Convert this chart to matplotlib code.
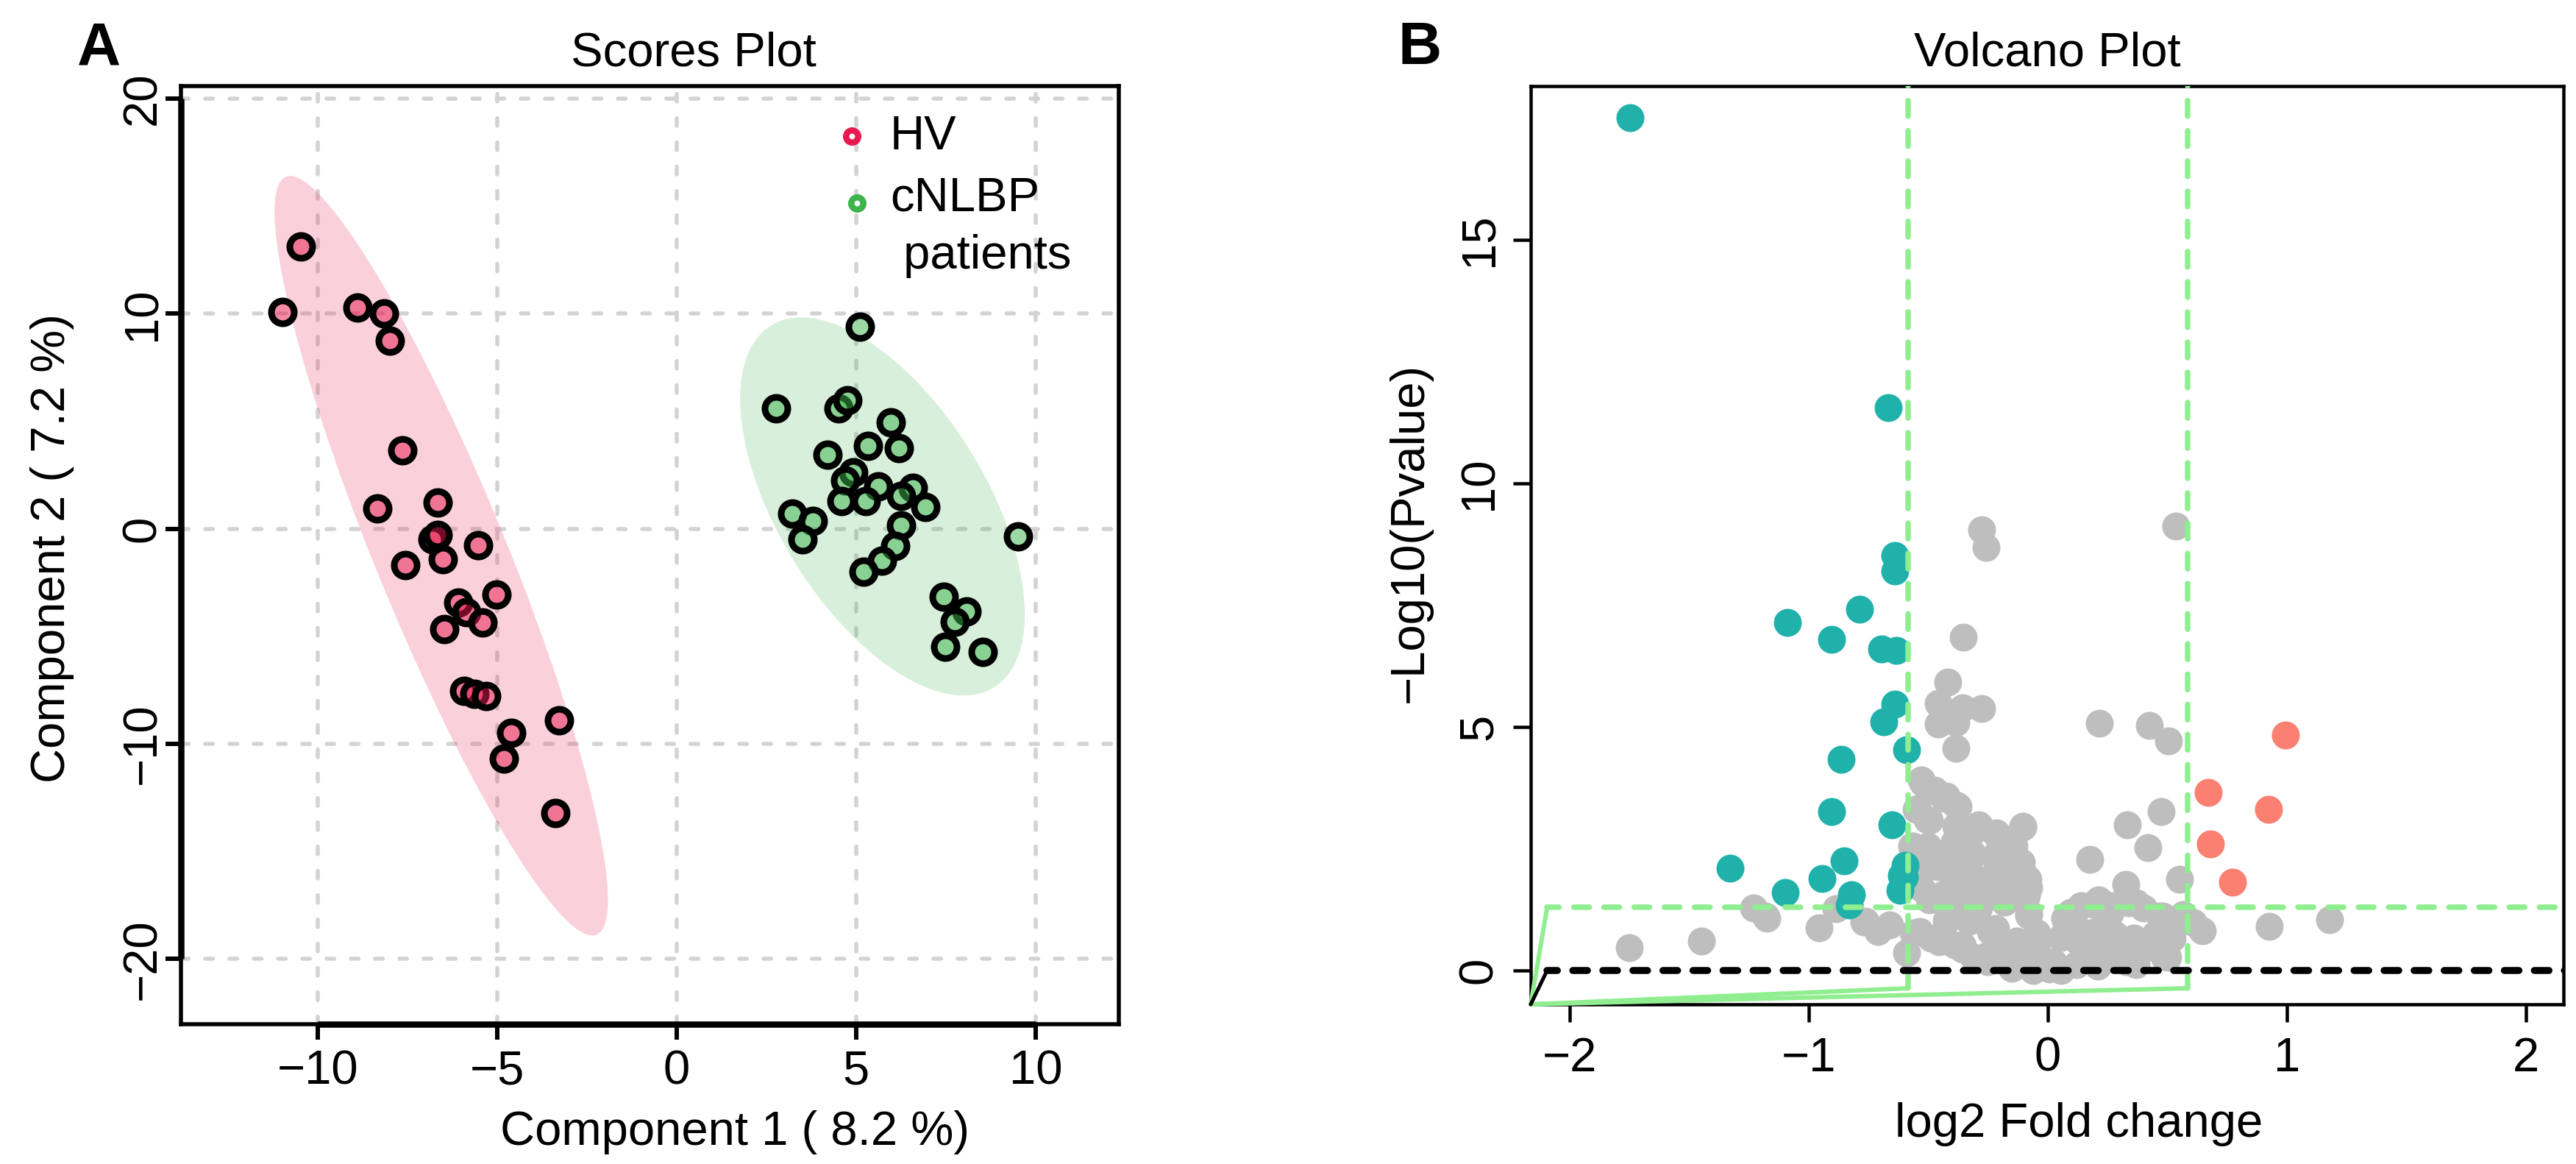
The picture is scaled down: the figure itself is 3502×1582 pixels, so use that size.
import numpy as np
import matplotlib
matplotlib.use('Agg')
import matplotlib.pyplot as plt
from matplotlib.patches import Ellipse

plt.rcParams['font.family'] = ['Liberation Sans', 'DejaVu Sans']

# ---------------- Panel A data (PLS-DA scores) ----------------
hv_x = [-10.46, -10.99, -8.90, -8.15, -7.99, -7.65, -8.33, -6.66, -6.80, -6.65,
        -5.53, -7.55, -6.52, -5.02, -6.09, -5.86, -5.40, -6.48, -5.93, -5.63,
        -5.31, -3.28, -4.60, -4.81, -3.37]
hv_y = [13.11, 10.09, 10.27, 10.01, 8.75, 3.64, 0.93, 1.23, -0.50, -0.30,
        -0.76, -1.69, -1.42, -3.07, -3.44, -3.88, -4.36, -4.65, -7.54, -7.67,
        -7.77, -8.89, -9.50, -10.67, -13.21]
cn_x = [5.11, 2.76, 4.52, 4.75, 5.96, 5.34, 6.19, 4.20, 4.92, 4.69,
        5.61, 6.59, 4.59, 5.28, 6.26, 6.94, 3.22, 3.79, 6.26, 9.51,
        3.51, 6.08, 5.73, 5.21, 7.45, 8.07, 7.75, 7.49, 8.52]
cn_y = [9.39, 5.61, 5.59, 5.99, 4.95, 3.85, 3.76, 3.46, 2.63, 2.24,
        1.98, 1.89, 1.28, 1.28, 1.54, 1.02, 0.70, 0.36, 0.15, -0.34,
        -0.48, -0.81, -1.48, -2.00, -3.15, -3.83, -4.33, -5.48, -5.71]
group_labels = ['HV', 'cNLBP', ' patients']
a_xticks = [-10, -5, 0, 5, 10]
a_yticks = [-20, -10, 0, 10, 20]

# ---------------- Panel B data (volcano) ----------------
down_x = [-1.749, -0.669, -0.640, -0.640, -1.089, -0.787, -0.906, -0.695, -0.634, -0.640,
          -0.685, -0.590, -0.866, -0.906, -0.653, -0.853, -0.945, -1.097, -0.821, -0.832,
          -0.598, -0.600, -0.619, -1.329, -0.612]
down_y = [17.50, 11.55, 8.51, 8.19, 7.14, 7.41, 6.79, 6.60, 6.56, 5.46,
          5.10, 4.52, 4.33, 3.25, 2.98, 2.24, 1.89, 1.59, 1.55, 1.34,
          2.15, 1.91, 1.64, 2.10, 1.95]
up_x = [0.995, 0.672, 0.923, 0.679, 0.771]
up_y = [4.83, 3.65, 3.30, 2.60, 1.80]
ns_x = [-0.276, -0.259, 0.535, -0.354,
        -0.417, -0.458, -0.357, -0.276, -0.458, -0.386, -0.386, 0.215, 0.426, 0.505,
        -0.523, -0.475, -0.434, -0.375, -0.550, -0.505, -0.386, -0.300, -0.214, -0.104,
        -0.570, -0.500, -0.400, -0.320, -0.220, -0.140, -0.110, -0.490, -0.410, -0.320,
        -0.240, -0.160, -0.083, -0.090, -0.530, -0.450, -0.350, -0.270, -0.180, -0.080,
        0.325, 0.175, 0.331, 0.418, 0.473, 0.551, 0.645, 0.926, 1.180, 0.610,
        0.480, 0.338, 0.140, 0.200, 0.270, 0.070, 0.120, 0.200, 0.280, 0.360,
        0.450, 0.520, 0.500, 0.370, 0.280, 0.200, 0.120, 0.030, 0.006, -0.030,
        -0.120, -0.200, -0.310, -0.390, -0.490, -0.590, -0.035, -0.130, -0.240, -0.330,
        -0.410, -0.660, -0.763, -0.710, -0.956, -0.887, -1.175,
        -1.752, -1.450, -1.180, -1.230, -0.770, 0.565, 0.094, 0.212, 0.369,
        -0.063, 0.055, -0.140, -0.260, -0.357, -0.455, -0.534, 0.210, 0.330, 0.486,
        0.430, 0.130,
        -0.529, -0.425, -0.385, -0.545, -0.494, -0.288, -0.106, -0.218, -0.390, -0.563,
        -0.150, -0.323, -0.459, -0.218, -0.098, -0.563, -0.357, -0.150, -0.080, -0.494,
        -0.288, -0.080, -0.425, -0.218, -0.046, -0.563, -0.357, -0.185, 0.022, 0.125,
        0.262, 0.089, 0.194, 0.400, 0.468, 0.262, 0.434, 0.503, 0.366, 0.194,
        0.055, -0.081, -0.253, -0.150]
ns_y = [9.04, 8.68, 9.12, 6.83,
        5.92, 5.48, 5.39, 5.37, 5.06, 5.08, 4.56, 5.07, 5.03, 4.71,
        3.84, 3.70, 3.53, 3.36, 3.30, 3.09, 2.96, 2.89, 2.82, 2.94,
        2.55, 2.55, 2.48, 2.42, 2.35, 2.55, 2.21, 2.15, 2.01, 1.94,
        1.87, 2.01, 1.87, 1.54, 1.68, 1.54, 1.47, 1.61, 1.40, 1.13,
        1.76, 2.28, 2.98, 2.52, 3.25, 1.87, 0.81, 0.90, 1.04, 0.97,
        1.11, 1.39, 1.33, 1.39, 1.33, 1.07, 0.87, 0.80, 0.73, 0.66,
        0.73, 0.66, 0.29, 0.12, 0.26, 0.39, 0.12, 0.06, 0.02, 0.12,
        0.12, 0.26, 0.26, 0.53, 0.66, 0.36, 0.66, 0.60, 0.80, 1.00,
        1.13, 0.93, 1.00, 0.80, 0.87, 1.27, 1.07,
        0.47, 0.60, 1.11, 1.28, 0.99, 1.14, 1.19, 1.44, 1.39,
        0.00, 0.00, 0.18, 0.28, 0.43, 0.585, 0.79, 0.08, 0.18, 0.28,
        0.48, 0.585,
        3.91, 3.57, 3.40, 3.32, 3.07, 2.98, 2.96, 2.81, 2.64, 2.55,
        2.47, 2.30, 2.13, 2.04, 1.96, 1.87, 1.70, 1.54, 1.70, 1.45,
        1.28, 1.19, 1.02, 0.85, 0.77, 0.77, 0.51, 0.34, 0.18, 0.60,
        1.19, 1.07, 1.36, 1.28, 1.11, 0.68, 0.51, 0.26, 0.18, 0.34,
        0.68, 0.43, 0.18, 0.04]
fc_cut = 0.585        # log2(1.5)
p_cut = 1.301         # -log10(0.05)
hline_x0 = -2.094     # start of horizontal reference lines
vline_y0 = -0.37      # start of vertical reference lines
b_xticks = [-2, -1, 0, 1, 2]
b_yticks = [0, 5, 10, 15]

# ---------------- styling helpers ----------------
DPI = 100
PX = 72.0 / DPI       # points per pixel
FS = 47
FIG_W, FIG_H = 3502, 1582
hv_col = '#E8194E'
cn_col = '#3CB44B'
lgreen = '#90EE90'

fig = plt.figure(figsize=(FIG_W / DPI, FIG_H / DPI), dpi=DPI)


def fx(px):
    return px / FIG_W


def fy(py):
    return (FIG_H - py) / FIG_H


axA = fig.add_axes([fx(246), fy(1392), (1521 - 246) / FIG_W, (1392 - 117) / FIG_H])
axB = fig.add_axes([fx(2081), fy(1365), (3485 - 2081) / FIG_W, (1365 - 117) / FIG_H])

# ================= Panel A =================
axA.set_xlim(-13.81, 12.32)
axA.set_ylim(-23.03, 20.58)
axA.set_xticks(a_xticks)
axA.set_yticks(a_yticks)
axA.set_axisbelow(True)
axA.grid(True, color='#D3D3D3', linewidth=5.5 * PX, linestyle=(0, (1.9, 4.1)),
         dash_capstyle='round')


def conf_ellipse(x, y, chi2=5.991, **kw):
    x = np.asarray(x)
    y = np.asarray(y)
    cov = np.cov(x, y)
    vals, vecs = np.linalg.eigh(cov)
    order = vals.argsort()[::-1]
    vals, vecs = vals[order], vecs[:, order]
    angle = np.degrees(np.arctan2(vecs[1, 0], vecs[0, 0]))
    w, h = 2 * np.sqrt(vals * chi2)
    return Ellipse((x.mean(), y.mean()), w, h, angle=angle, **kw)


axA.add_patch(conf_ellipse(hv_x, hv_y, facecolor=hv_col, alpha=0.2, edgecolor='none', zorder=1))
axA.add_patch(conf_ellipse(cn_x, cn_y, facecolor=cn_col, alpha=0.2, edgecolor='none', zorder=1))

ms = 31 * PX
for xs, ys, col in ((hv_x, hv_y, hv_col), (cn_x, cn_y, cn_col)):
    axA.scatter(xs, ys, s=ms ** 2, facecolors=matplotlib.colors.to_rgba(col, 0.5),
                edgecolors='black', linewidths=9 * PX, zorder=3)

for sp in axA.spines.values():
    sp.set_linewidth(5.5 * PX)
axA.tick_params(direction='out', length=21 * PX, width=6 * PX, labelsize=FS)
axA.tick_params(axis='x', pad=13 * PX)
axA.tick_params(axis='y', pad=0.5, labelrotation=90)
for lab in axA.get_yticklabels():
    lab.set_va('center')
# heavier axis lines between first and last tick (R axis style)
xl, yl = axA.get_xlim(), axA.get_ylim()
axA.plot([a_xticks[0], a_xticks[-1]], [yl[0], yl[0]], color='black', lw=8.5 * PX,
         solid_capstyle='butt', clip_on=False, zorder=6)
axA.plot([xl[0], xl[0]], [a_yticks[0], a_yticks[-1]], color='black', lw=8.5 * PX,
         solid_capstyle='butt', clip_on=False, zorder=6)

# legend (manual, R-like)
axA.plot([0.715], [0.947], transform=axA.transAxes, marker='o', ms=16.5 * PX,
         mfc='none', mec=hv_col, mew=8.5 * PX, ls='none', zorder=7)
axA.plot([0.721], [0.875], transform=axA.transAxes, marker='o', ms=16.5 * PX,
         mfc='none', mec=cn_col, mew=8.5 * PX, ls='none', zorder=7)
axA.text(0.756, 0.9324, group_labels[0], transform=axA.transAxes, fontsize=FS,
         ha='left', va='baseline', zorder=7)
axA.text(0.756, 0.8669, group_labels[1], transform=axA.transAxes, fontsize=FS,
         ha='left', va='baseline', zorder=7)
axA.text(0.756, 0.8055, group_labels[2], transform=axA.transAxes, fontsize=FS,
         ha='left', va='baseline', zorder=7)

# ================= Panel B =================
axB.set_xlim(-2.163, 2.157)
axB.set_ylim(-0.70, 18.15)
axB.set_xticks(b_xticks)
axB.set_yticks(b_yticks)

pt_s = (38 * PX) ** 2
axB.scatter(ns_x, ns_y, s=pt_s, color='#BEBEBE', linewidths=0, zorder=2)
axB.scatter(down_x, down_y, s=pt_s, color='#20B2AA', linewidths=0, zorder=2)
axB.scatter(up_x, up_y, s=pt_s, color='#FA8072', linewidths=0, zorder=2)

bxl, byl = axB.get_xlim(), axB.get_ylim()
corner = (bxl[0], byl[0])
# artefact strokes from the panel corner to the start of each reference line
for tx, ty in ((-fc_cut, vline_y0), (fc_cut, vline_y0), (hline_x0, p_cut)):
    axB.plot([corner[0], tx], [corner[1], ty], color=lgreen, lw=6 * PX,
             solid_capstyle='round', zorder=3, clip_on=False)
axB.plot([corner[0], hline_x0], [corner[1], 0], color='black', lw=5 * PX,
         solid_capstyle='round', zorder=3, clip_on=False)

far = 100
gdash = (0.6, (2.8, 2.67))
for xv in (-fc_cut, fc_cut):
    axB.plot([xv, xv], [vline_y0, far], color=lgreen, lw=7.5 * PX,
             linestyle=gdash, dash_capstyle='round', zorder=4)
axB.plot([hline_x0, far], [p_cut, p_cut], color=lgreen, lw=7.5 * PX,
         linestyle=gdash, dash_capstyle='round', zorder=4)
axB.plot([hline_x0, far], [0, 0], color='black', lw=9.5 * PX,
         linestyle=(0.6, (2.1, 2.2)), dash_capstyle='round', zorder=4)
axB.set_xlim(bxl)
axB.set_ylim(byl)

for sp in axB.spines.values():
    sp.set_linewidth(4.5 * PX)
axB.tick_params(direction='out', length=24 * PX, width=4.5 * PX, labelsize=FS)
axB.tick_params(axis='x', pad=20 * PX)
axB.tick_params(axis='y', pad=16 * PX, labelrotation=90)
for lab in axB.get_yticklabels():
    lab.set_va('center')

# ================= figure texts =================
fig.text(fx(105), fy(88), 'A', fontsize=59, fontweight='bold', ha='left', va='baseline')
fig.text(fx(1900), fy(87), 'B', fontsize=59, fontweight='bold', ha='left', va='baseline')
fig.text(fx(943), fy(89), 'Scores Plot', fontsize=FS, ha='center', va='baseline')
fig.text(fx(2783), fy(89), 'Volcano Plot', fontsize=FS, ha='center', va='baseline')
fig.text(fx(999), fy(1556), 'Component 1 ( 8.2 %)', fontsize=FS, ha='center', va='baseline')
fig.text(fx(2826), fy(1545), 'log2 Fold change', fontsize=FS, ha='center', va='baseline')
fig.text(fx(71), fy(745), 'Component 2 ( 7.2 %)', fontsize=FS, rotation=90,
         ha='center', va='center')
fig.text(fx(1917), fy(724), '\u2212Log10(Pvalue)', fontsize=FS, rotation=90,
         ha='center', va='center')

fig.savefig('out.png', dpi=DPI)
